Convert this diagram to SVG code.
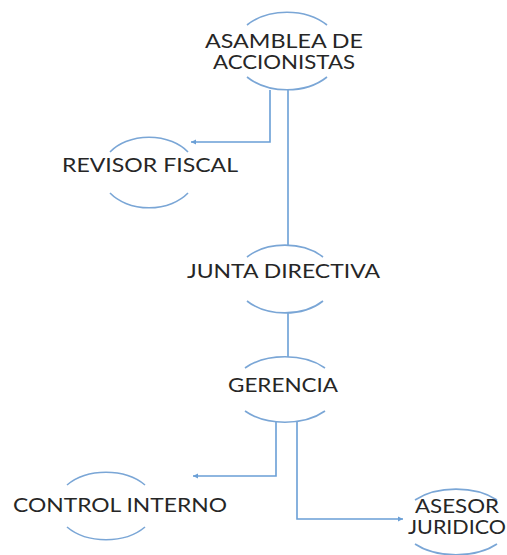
<svg xmlns="http://www.w3.org/2000/svg" width="507" height="555" viewBox="0 0 507 555">
<style>
.arc{fill:none;stroke:#7aa6d6;stroke-width:1.6}
.ln{fill:none;stroke:#6a9fd6;stroke-width:1.6}
.t{font-family:Lato,"Liberation Sans",sans-serif;font-size:19px;fill:#262626;text-anchor:middle}
</style>
<defs>
<marker id="ah" markerWidth="6" markerHeight="6" refX="5" refY="3" orient="auto" markerUnits="userSpaceOnUse">
<path d="M0,0.5 L5,3 L0,5.5 Z" fill="#6a9fd6"/>
</marker>
</defs>
<rect width="507" height="555" fill="#ffffff"/>
<g id="connectors">
<path class="ln" d="M270 90 V142 H191" marker-end="url(#ah)"/>
<path class="ln" d="M288 90 V245"/>
<path class="ln" d="M288 313 V357"/>
<path class="ln" d="M276 422 V476 H193" marker-end="url(#ah)"/>
<path class="ln" d="M297 422 V519 H403" marker-end="url(#ah)"/>
</g>
<g id="asamblea">
<path class="arc" d="M247 25 A54 39 0 0 1 327 25"/>
<path class="arc" d="M327 77 A54 39 0 0 1 247 77"/>
<text class="t" x="284" y="48" textLength="158" lengthAdjust="spacingAndGlyphs">ASAMBLEA DE</text>
<text class="t" x="284" y="69" textLength="142" lengthAdjust="spacingAndGlyphs">ACCIONISTAS</text>
</g>
<g id="revisor">
<path class="arc" d="M110 152 A48 35.5 0 0 1 188 152"/>
<path class="arc" d="M188 193 A48 35.5 0 0 1 110 193"/>
<text class="t" x="150" y="172" textLength="176" lengthAdjust="spacingAndGlyphs">REVISOR FISCAL</text>
</g>
<g id="junta">
<path class="arc" d="M247 257 A50 34 0 0 1 323 257"/>
<path class="arc" d="M323 301 A50 34 0 0 1 247 301"/>
<text class="t" x="283.5" y="278" textLength="193" lengthAdjust="spacingAndGlyphs">JUNTA DIRECTIVA</text>
</g>
<g id="gerencia">
<path class="arc" d="M245 368 A53 32.5 0 0 1 325 368"/>
<path class="arc" d="M325 411 A53 32.5 0 0 1 245 411"/>
<text class="t" x="283" y="392" textLength="110" lengthAdjust="spacingAndGlyphs">GERENCIA</text>
</g>
<g id="control">
<path class="arc" d="M67 485 A50 34 0 0 1 145 485"/>
<path class="arc" d="M145 527 A50 34 0 0 1 67 527"/>
<text class="t" x="120" y="512" textLength="214" lengthAdjust="spacingAndGlyphs">CONTROL INTERNO</text>
</g>
<g id="asesor">
<path class="arc" d="M415 500 A55 32.5 0 0 1 497 500"/>
<path class="arc" d="M497 544 A55 32.5 0 0 1 415 544"/>
<text class="t" x="457" y="513" textLength="84" lengthAdjust="spacingAndGlyphs">ASESOR</text>
<text class="t" x="457" y="534" textLength="98" lengthAdjust="spacingAndGlyphs">JURIDICO</text>
</g>
</svg>
